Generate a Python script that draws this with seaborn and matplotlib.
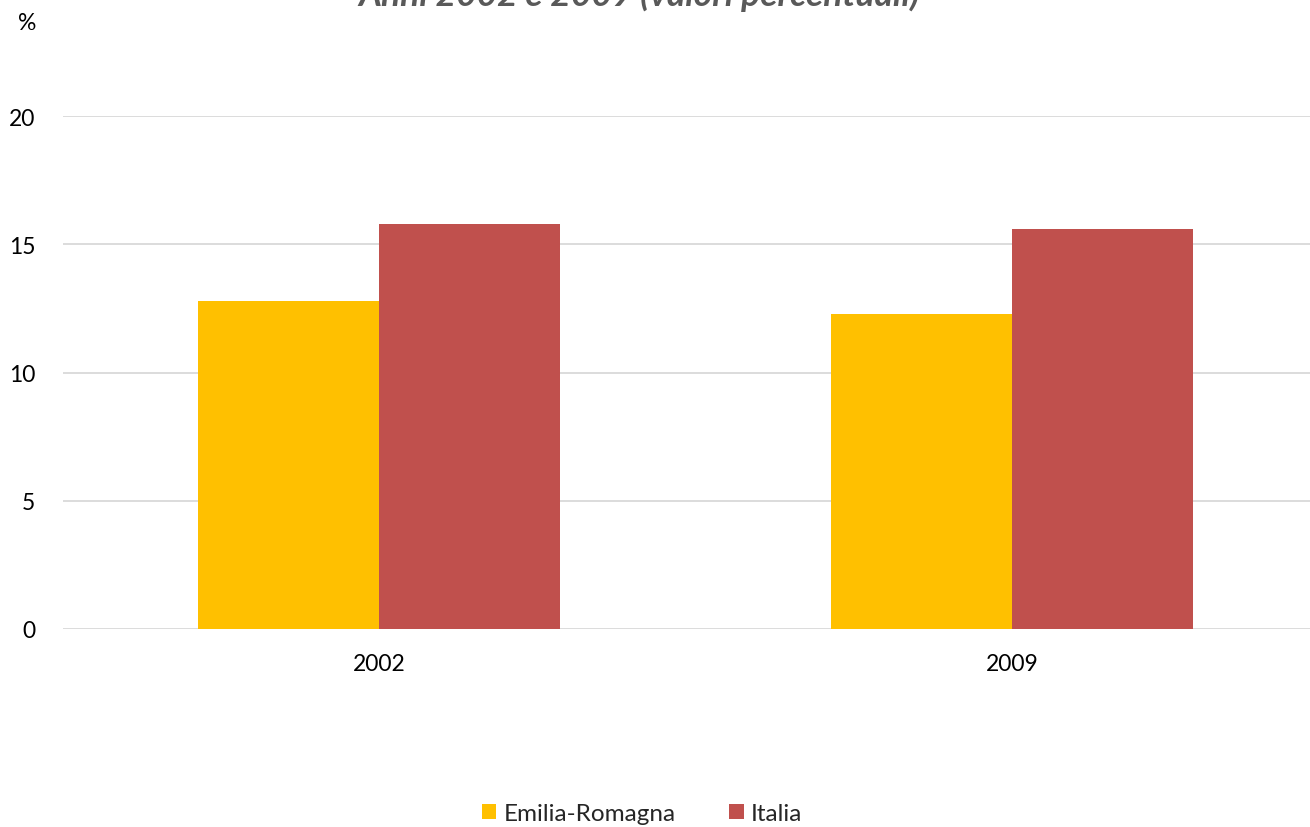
import matplotlib
matplotlib.use("Agg")
import matplotlib.pyplot as plt
import seaborn as sns
import pandas as pd
from matplotlib.patches import Patch

# Data
years = ["2002", "2009"]
regions = ["Emilia-Romagna", "Italia"]
emilia_romagna = [12.8, 12.3]
italia = [15.8, 15.6]
yticks = [0, 5, 10, 15, 20]
colors = {"Emilia-Romagna": "#FFC000", "Italia": "#C0504D"}

df = pd.DataFrame({
    "anno": years * 2,
    "area": [regions[0]] * len(years) + [regions[1]] * len(years),
    "valore": emilia_romagna + italia,
})

sns.set_theme(style="white")
plt.rcParams["font.family"] = ["Lato", "DejaVu Sans"]

W, H, DPI = 1310, 828, 100
fig = plt.figure(figsize=(W / DPI, H / DPI), dpi=DPI)
# axes in pixel coordinates: left 62.5, right 1328.5, top 117, bottom 630
ax = fig.add_axes([62.5 / W, (H - 630) / H, 1266 / W, (630 - 117) / H])

sns.barplot(data=df, x="anno", y="valore", hue="area", order=years,
            hue_order=regions, palette=colors, width=0.572, saturation=1,
            linewidth=0, legend=False, ax=ax, zorder=3)

ax.set_xlim(-0.5, 1.5)
ax.set_ylim(0, 20)
ax.set_yticks(yticks)
ax.set_yticklabels([str(v) for v in yticks])
ax.yaxis.grid(True, color="#D9D9D9", linewidth=1.3, zorder=0)
ax.xaxis.grid(False)
for s in ax.spines.values():
    s.set_visible(False)
ax.tick_params(axis="y", length=0, pad=19.5, labelsize=16.5, labelcolor="#000000")
ax.tick_params(axis="x", length=0, pad=17, labelsize=16.5, labelcolor="#000000")
ax.set_xlabel("")
ax.set_ylabel("")

fig.text(18 / W, 1 - 24 / H, "%", fontsize=16.5, ha="left", va="center", color="#000000")
fig.text(639 / W, 1 - 6 / H, "Anni 2002 e 2009 (valori percentuali)", fontsize=25.5,
         fontweight="bold", fontstyle="italic", color="#595959",
         ha="center", va="baseline")

handles = [Patch(facecolor=colors[r], edgecolor="none", label=r) for r in regions]
fig.legend(handles=handles, loc="lower center", bbox_to_anchor=(642 / W, -19 / H),
           ncol=2, frameon=False, fontsize=17.5, handlelength=0.6, handleheight=0.6,
           handletextpad=0.3, columnspacing=2.2)

fig.savefig("out.png", dpi=DPI)
